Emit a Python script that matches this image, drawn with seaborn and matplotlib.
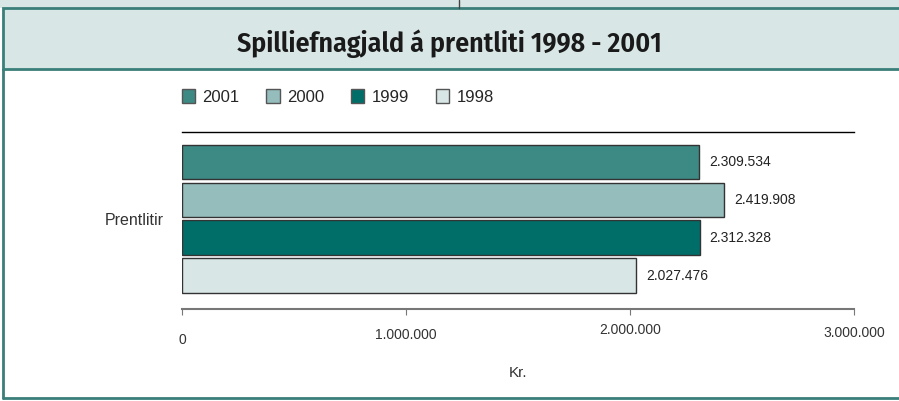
import matplotlib
matplotlib.use("Agg")
import matplotlib.pyplot as plt
from matplotlib.patches import Rectangle
from matplotlib.lines import Line2D
import pandas as pd
import seaborn as sns

## data
category = ["Prentlitir"]
years = ["2001", "2000", "1999", "1998"]
values = [2309534, 2419908, 2312328, 2027476]
colors = ["#3d8a84", "#94bdbb", "#006e68", "#d8e6e6"]
xticks = [0, 1000000, 2000000, 3000000]
xtick_labels = ["0", "1.000.000", "2.000.000", "3.000.000"]
# the original staggers the tick labels vertically (axes coords)
xtick_label_y = [-0.175, -0.147, -0.116, -0.136]

df = pd.DataFrame({"cat": category * len(years), "year": years, "value": values})

sns.set_style("white")
plt.rcParams["font.family"] = ["Liberation Sans", "DejaVu Sans"]

fig = plt.figure(figsize=(8.99, 4.01), dpi=100)

## frame like the report page
frame_col = "#3a7f7a"
light = "#d8e6e6"
fig.patches.append(Rectangle((0, 1 - 8 / 401), 1, 8 / 401, transform=fig.transFigure,
                             facecolor=light, edgecolor="none", zorder=0))
fig.lines.append(Line2D([459 / 899, 459 / 899], [1, 1 - 8 / 401], transform=fig.transFigure,
                        color="#444444", lw=1))
fig.patches.append(Rectangle((3 / 899, 1 - 69 / 401), 1.5, 61 / 401, transform=fig.transFigure,
                             facecolor=light, edgecolor=frame_col, lw=2, zorder=1))
fig.lines.append(Line2D([3 / 899, 3 / 899], [1 - 69 / 401, 1 - 398 / 401], transform=fig.transFigure,
                        color=frame_col, lw=2))
fig.lines.append(Line2D([3 / 899, 1], [1 - 398 / 401, 1 - 398 / 401], transform=fig.transFigure,
                        color=frame_col, lw=2))

title = fig.text(0.5, 1 - 44 / 401, "Spilliefnagjald á prentliti 1998 - 2001", ha="center", va="center",
                 fontsize=18, fontweight="semibold", family=["Fira Sans Condensed", "DejaVu Sans"],
                 color="#1a1a1a")
# scale the title so it is as wide as in the original (about 425 px)
r = fig.canvas.get_renderer()
w = title.get_window_extent(r).width
title.set_fontsize(18 * 425 / w)

## the bars
ax = fig.add_axes([182 / 899, 1 - 309 / 401, 672 / 899, 177 / 401])
sns.barplot(data=df, x="value", y="cat", hue="year", hue_order=years, palette=colors,
            saturation=1, orient="h", width=0.8, gap=0.08, edgecolor="#333333", linewidth=1,
            legend=False, ax=ax)
ax.set_ylim(0.474, -0.458)
ax.set_xlim(0, 3000000)

for cont, v in zip(ax.containers, values):
    ax.bar_label(cont, labels=[f"{v:,}".replace(",", ".")], padding=7, fontsize=10, color="#222222")

ax.set_xticks(xticks)
ax.set_xticklabels([])
ax.tick_params(axis="x", direction="out", length=4, color="#777777", bottom=True)
for x, lab, y in zip(xticks, xtick_labels, xtick_label_y):
    ax.text(x, y, lab, transform=ax.get_xaxis_transform(), ha="center", va="center",
            fontsize=10, color="#333333")

ax.tick_params(axis="y", length=0, pad=13, labelsize=11.5, labelcolor="#333333")
ax.set_ylabel("")
ax.set_xlabel("Kr.", fontsize=11, color="#333333")
ax.xaxis.set_label_coords(0.5, -0.362)
ax.xaxis.label.set_va("center")

sns.despine(ax=ax, left=True, right=True, top=False)
ax.spines["top"].set_color("black")
ax.spines["top"].set_linewidth(1)
ax.spines["bottom"].set_color("#777777")
ax.spines["bottom"].set_linewidth(1.5)

## legend
handles = [Rectangle((0, 0), 1, 1, facecolor=c, edgecolor="#555555", lw=1) for c in colors]
fig.legend(handles, years, loc="center left", bbox_to_anchor=(175 / 899, 1 - 97 / 401),
           ncol=4, frameon=False, fontsize=12, handlelength=0.8, handleheight=0.9,
           handletextpad=0.45, columnspacing=1.6, borderaxespad=0)

fig.savefig("out.png", dpi=100)
